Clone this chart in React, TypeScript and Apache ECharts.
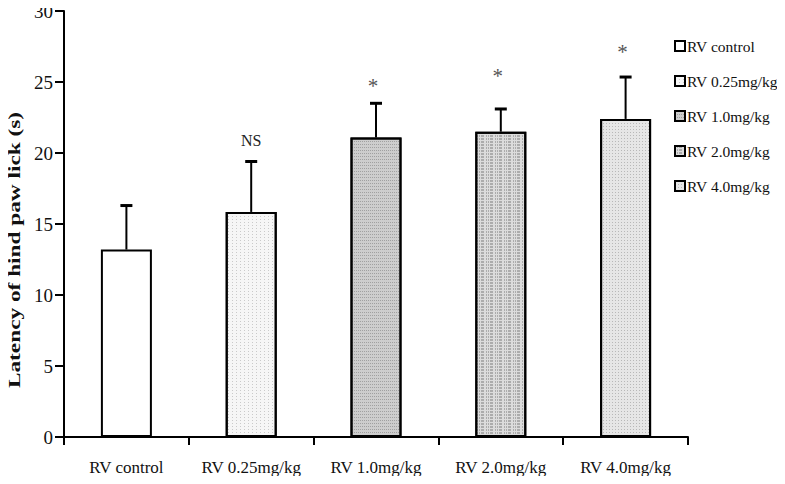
import React, { useEffect, useRef } from "react";
import * as echarts from "echarts";

const categories = ["RV control", "RV 0.25mg/kg", "RV 1.0mg/kg", "RV 2.0mg/kg", "RV 4.0mg/kg"];
const means = [13.2, 15.85, 21.1, 21.5, 22.4];
const sems = [3.1, 3.55, 2.4, 1.6, 2.95];
const annotations = ["", "NS", "*", "*", "*"];
const annotationLevels = [0, 20.85, 24.9, 25.6, 27.3];

const fills = ["#ffffff", "#f6f6f6", "#cdcdcd", "#dcdcdc", "#e6e6e6"];
const decals: any[] = [
  null,
  { symbol: "rect", symbolSize: 1, dashArrayX: [1, 3], dashArrayY: [1, 2], color: "rgba(0,0,0,0.18)" },
  { symbol: "rect", symbolSize: 1, dashArrayX: [1, 1], dashArrayY: [1, 2], color: "rgba(0,0,0,0.22)" },
  { symbol: "rect", symbolSize: 1, dashArrayX: [[1, 1, 1, 1, 3, 2]], dashArrayY: [2, 1], color: "rgba(0,0,0,0.22)" },
  { symbol: "rect", symbolSize: 1, dashArrayX: [1, 2], dashArrayY: [1, 2], color: "rgba(0,0,0,0.2)" },
];

const FONT = "'Liberation Serif', 'Times New Roman', serif";

export default function App() {
  const ref = useRef<HTMLDivElement>(null);
  useEffect(() => {
    if (!ref.current) return;
    const chart = echarts.init(ref.current, null, { renderer: "svg" });
    const barSeries = categories.map((name, i) => ({
      name,
      type: "bar",
      barWidth: 51,
      barGap: "-100%",
      data: categories.map((_, j) => (j === i ? means[i] : "-")),
      itemStyle: {
        color: fills[i],
        borderColor: "#000",
        borderWidth: 2,
        decal: decals[i] || undefined,
      },
      emphasis: { disabled: true },
    }));
    const errData = categories.map((_, i) => [i, means[i], means[i] + sems[i], annotationLevels[i]]);
    chart.setOption({
      animation: false,
      grid: { left: 64, right: 97, top: 11, bottom: 47, containLabel: false },
      legend: {
        orient: "vertical",
        left: 669,
        top: 31,
        itemWidth: 10,
        itemHeight: 10,
        itemGap: 15,
        icon: "rect",
        selectedMode: false,
        itemStyle: { borderColor: "#000", borderWidth: 2 },
        textStyle: { fontFamily: FONT, fontSize: 15.5, color: "#111", lineHeight: 20, padding: [0, 0, 0, -3] },
        data: categories,
      },
      xAxis: {
        type: "category",
        data: categories,
        axisLine: { lineStyle: { color: "#000", width: 2 } },
        axisTick: { show: true, length: 8, lineStyle: { color: "#000", width: 2 } },
        axisLabel: { fontFamily: FONT, fontSize: 17, color: "#111", margin: 22, interval: 0 },
      },
      yAxis: {
        type: "value",
        min: 0,
        max: 30,
        interval: 5,
        splitLine: { show: false },
        axisLine: { show: true, lineStyle: { color: "#000", width: 2 } },
        axisTick: { show: true, length: 9, lineStyle: { color: "#000", width: 2 } },
        axisLabel: { fontFamily: FONT, fontSize: 19, color: "#111", margin: 11 },
      },
      graphic: [
        {
          type: "text",
          x: 14,
          y: 250,
          rotation: Math.PI / 2,
          scaleX: 1.37,
          style: {
            text: "Latency of hind paw lick (s)",
            font: "bold 17px " + FONT,
            fill: "#111",
            align: "center",
            verticalAlign: "middle",
          },
        },
      ],
      series: [
        ...barSeries,
        {
          type: "custom",
          name: "err",
          z: 5,
          data: errData,
          renderItem: (params: any, api: any) => {
            const x = api.value(0);
            const p0 = api.coord([x, api.value(1)]);
            const p1 = api.coord([x, api.value(2)]);
            const i = params.dataIndex;
            const children: any[] = [
              { type: "line", shape: { x1: p0[0], y1: p0[1], x2: p1[0], y2: p1[1] }, style: { stroke: "#000", lineWidth: 2 } },
              { type: "line", shape: { x1: p1[0] - 6, y1: p1[1], x2: p1[0] + 6, y2: p1[1] }, style: { stroke: "#000", lineWidth: 3 } },
            ];
            if (annotations[i]) {
              const pa = api.coord([x, api.value(3)]);
              const isStar = annotations[i] === "*";
              children.push({
                type: "text",
                x: pa[0] - (isStar ? 3 : 0),
                y: pa[1] + (isStar ? 3 : 0),
                style: {
                  text: annotations[i],
                  font: (isStar ? "21px " : "16px ") + FONT,
                  fill: isStar ? "#555" : "#222",
                  align: "center",
                  verticalAlign: "middle",
                },
              });
            }
            return { type: "group", children };
          },
        },
      ],
    });
    return () => chart.dispose();
  }, []);
  return <div ref={ref} style={{ width: 785, height: 484, margin: -8 }} />;
}
